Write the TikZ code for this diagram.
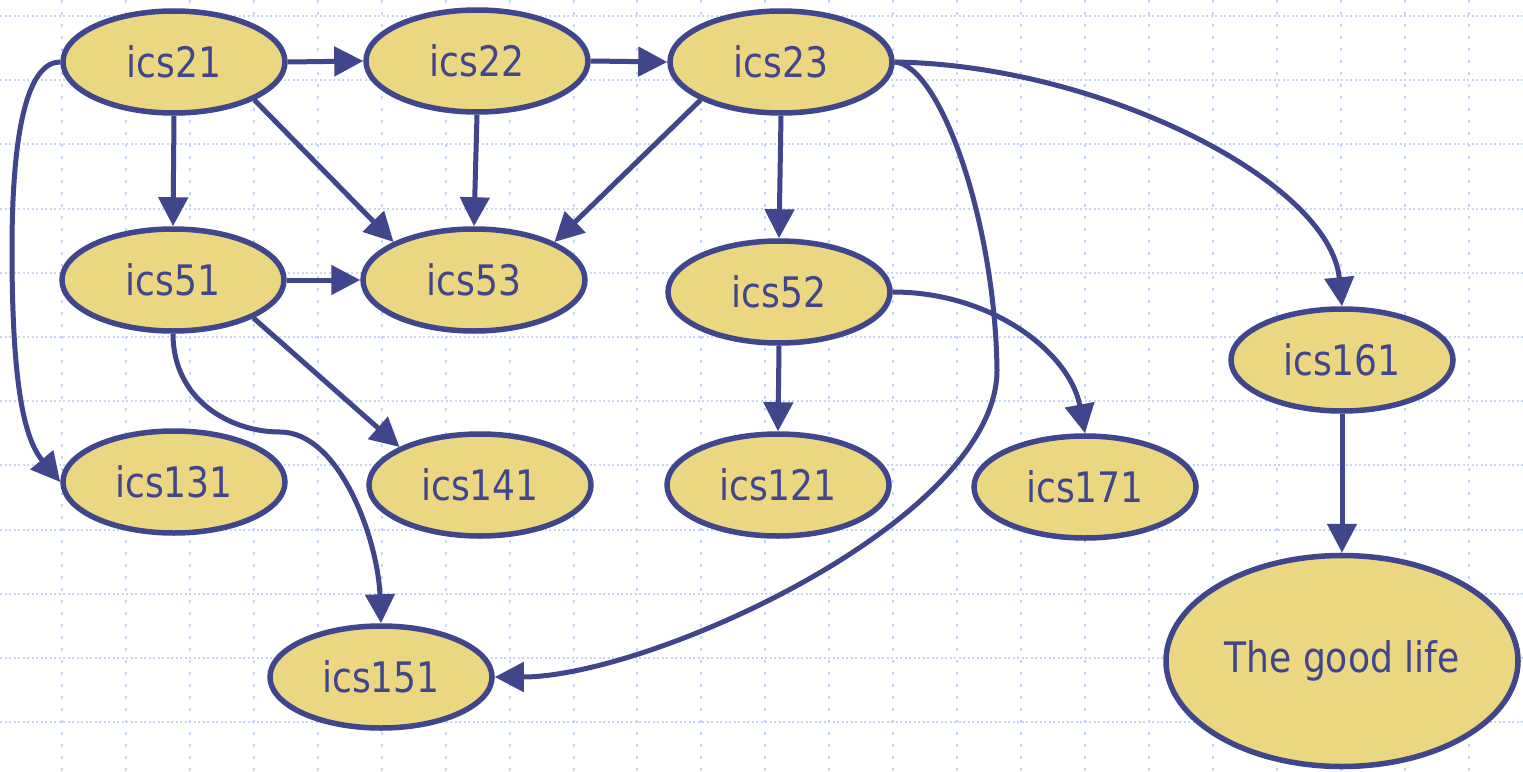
\documentclass[tikz,border=0pt]{standalone}
\usepackage{fontspec}
\setmainfont{DejaVu Sans}[FakeStretch=0.86]
\usetikzlibrary{shapes.geometric,arrows.meta}
\definecolor{edgeblue}{RGB}{64,69,140}
\definecolor{nodefill}{RGB}{235,215,130}
\definecolor{gridblue}{RGB}{200,214,245}
\begin{document}
\begin{tikzpicture}[x=1pt,y=-1pt,
  course/.style={ellipse,draw=edgeblue,fill=nodefill,line width=5.5pt,inner sep=0pt,
    minimum width=222pt,minimum height=102pt,text=edgeblue,
    font=\fontsize{42}{50}\selectfont},
  goal/.style={course,minimum width=352pt,minimum height=211pt},
  link/.style={draw=edgeblue,line width=5pt,-{Triangle[length=29pt,width=29pt]}},
  hgrid/.style={draw=gridblue,line width=2pt,dash pattern=on 2pt off 2.5pt},
  vgrid/.style={draw=gridblue,line width=2pt,dash pattern=on 3pt off 9pt}]
\useasboundingbox (0,0) rectangle (1523,771);
\fill[white] (0,0) rectangle (1523,771);

% background grid
\foreach \k in {0,...,11} \draw[hgrid] (0,16+64.2*\k) -- (1523,16+64.2*\k);
\foreach \k in {0,...,22} \draw[vgrid] (62+63.94*\k,0) -- (62+63.94*\k,771);

% courses
\node[course] (ics21)  at (174,62)  {ics21};
\node[course] (ics22)  at (477,61)  {ics22};
\node[course] (ics23)  at (781,62)  {ics23};
\node[course] (ics51)  at (173,280) {ics51};
\node[course] (ics53)  at (474,280) {ics53};
\node[course] (ics52)  at (779,292) {ics52};
\node[course] (ics161) at (1342,360) {ics161};
\node[course] (ics131) at (174,482) {ics131};
\node[course] (ics141) at (480,485) {ics141};
\node[course] (ics121) at (778,485) {ics121};
\node[course] (ics171) at (1085,487) {ics171};
\node[course] (ics151) at (381,677) {ics151};
\node[goal]   (life)   at (1342,661) {The good life};

% waypoints of the long curves
\coordinate (leftbend)  at (12,250);
\coordinate (rightbend) at (997,370);
\coordinate (sbend)     at (280,432);

% prerequisites
\draw[link] (ics21.east) -- (ics22.west);
\draw[link] (ics22.east) -- (ics23.west);
\draw[link] (ics21.south) -- (ics51.north);
\draw[link] (ics21.south east) -- (ics53.north west);
\draw[link] (ics22.south) -- (ics53.north);
\draw[link] (ics23.south west) -- (ics53.north east);
\draw[link] (ics23.south) -- (ics52.north);
\draw[link] (ics51.east) -- (ics53.west);
\draw[link] (ics51.south east) -- (ics141.north west);
\draw[link] (ics52.south) -- (ics121.north);
\draw[link] (ics161.south) -- (life.north);

\draw[link] (ics21.west) .. controls +(-30,0) and +(0,-130) .. (leftbend)
  .. controls +(0,140) and +(-35,-42) .. (ics131.west);
\draw[link] (ics51.south) .. controls +(0,66) and +(-50,0) .. (sbend)
  .. controls +(60,0) and +(-3,-83) .. (ics151.north);
\draw[link] (ics23.east) .. controls +(45,3) and +(-2,-150) .. (rightbend)
  .. controls +(0,150) and +(155,0) .. (ics151.east);
\draw[link] (ics23.east) .. controls +(205,3) and +(-12,-125) .. (ics161.north);
\draw[link] (ics52.east) .. controls +(100,0) and +(-15,-80) .. (ics171.north);
\end{tikzpicture}
\end{document}
